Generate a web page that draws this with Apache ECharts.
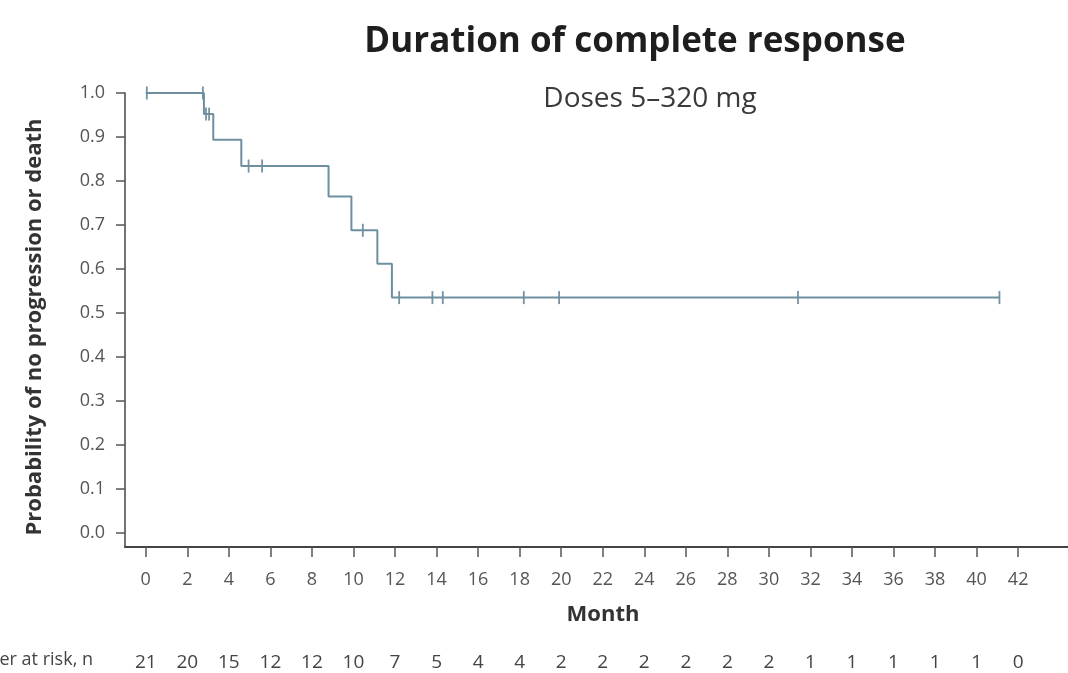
<!DOCTYPE html>
<html>
<head>
<meta charset="utf-8">
<script src="https://cdn.jsdelivr.net/npm/echarts@6/dist/echarts.min.js"></script>
<style>
html,body{margin:0;padding:0;background:#fff;}
#chart{width:1068px;height:673px;}
</style>
</head>
<body>
<div id="chart"></div>
<script>
// Kaplan-Meier step points: [month, probability]
const stepMonths = [0, 2.8, 3.25, 4.6, 8.8, 9.9, 11.15, 11.85, 41.1];
const stepProbs  = [1.0, 0.952, 0.894, 0.834, 0.765, 0.688, 0.612, 0.535, 0.535];
// Censored observations
const censorMonths = [0.05, 2.75, 2.9, 3.05, 4.95, 5.6, 10.45, 12.2, 13.8, 14.3, 18.2, 19.9, 31.4, 41.1];
const censorProbs  = [1.0, 1.0, 0.952, 0.952, 0.834, 0.834, 0.688, 0.535, 0.535, 0.535, 0.535, 0.535, 0.535, 0.535];
// Axis ticks
const monthTicks = [0,2,4,6,8,10,12,14,16,18,20,22,24,26,28,30,32,34,36,38,40,42];
const probTicks = [0,0.1,0.2,0.3,0.4,0.5,0.6,0.7,0.8,0.9,1.0];
// Number at risk at each month tick
const atRisk = [21,20,15,12,12,10,7,5,4,4,2,2,2,2,2,2,1,1,1,1,1,0];

const FONT = 'Open Sans';
const lineColor = '#6d8fa0';
const stepData = stepMonths.map((m, i) => [m, stepProbs[i]]);
const censorData = censorMonths.map((m, i) => [m, censorProbs[i]]);

const chart = echarts.init(document.getElementById('chart'), null, {renderer: 'canvas'});
chart.setOption({
  animation: false,
  backgroundColor: '#fff',
  textStyle: {fontFamily: FONT},
  title: [
    {text: 'Duration of complete response', left: 630, top: 20, textAlign: 'center',
     textStyle: {fontFamily: FONT, fontSize: 35, fontWeight: 'bold', color: '#1e1e1e'}},
    {text: 'Doses 5\u2013320 mg', left: 645, top: 80, textAlign: 'center',
     textStyle: {fontFamily: FONT, fontSize: 28, fontWeight: 'normal', color: '#3a3a3a'}}
  ],
  graphic: [
    {type: 'text', right: 1068 - 93, top: 651,
     style: {text: 'Number at risk, n', fontFamily: FONT, fontSize: 18, fill: '#444', textAlign: 'right'}}
  ],
  grid: {left: 125, right: 0, top: 93, bottom: 126, containLabel: false, outerBoundsMode: 'none'},
  xAxis: [
    {
      type: 'value', min: -1, max: 44.4, position: 'bottom',
      name: 'Month', nameLocation: 'middle', nameGap: 57,
      nameTextStyle: {fontFamily: FONT, fontSize: 22, fontWeight: 'bold', color: '#333', padding: [0, 0, 0, 13]},
      axisLine: {show: true, onZero: false, lineStyle: {color: '#444', width: 2}},
      axisTick: {show: true, length: 10, customValues: monthTicks, lineStyle: {color: '#555', width: 1.5}},
      axisLabel: {customValues: monthTicks, margin: 24, fontFamily: FONT, fontSize: 18, color: '#555'},
      splitLine: {show: false}
    },
    {
      type: 'value', min: -1, max: 44.4, position: 'bottom', offset: 106,
      axisLine: {show: false},
      axisTick: {show: false},
      axisLabel: {customValues: monthTicks, margin: 0, fontFamily: FONT, fontSize: 19, color: '#444',
        formatter: function (v) { const i = monthTicks.indexOf(Math.round(v)); return i >= 0 ? String(atRisk[i]) : ''; }},
      splitLine: {show: false}
    }
  ],
  yAxis: {
    type: 'value', min: -0.0318, max: 1.0,
    name: 'Probability of no progression or death', nameLocation: 'middle', nameGap: 79,
    nameTextStyle: {fontFamily: FONT, fontSize: 22, fontWeight: 'bold', color: '#333', padding: [0, 14, 0, 0]},
    axisLine: {show: true, onZero: false, lineStyle: {color: '#444', width: 1.5}},
    axisTick: {show: true, length: 9, customValues: probTicks, lineStyle: {color: '#555', width: 1.5}},
    axisLabel: {customValues: probTicks, margin: 20, fontFamily: FONT, fontSize: 18, color: '#555',
      formatter: function (v) { return v.toFixed(1); }},
    splitLine: {show: false}
  },
  series: [
    {
      type: 'line', step: 'end', data: stepData, xAxisIndex: 0,
      showSymbol: false, symbol: 'none',
      lineStyle: {color: lineColor, width: 2}
    },
    {
      type: 'scatter', data: censorData, xAxisIndex: 0,
      symbol: 'rect', symbolSize: [1.8, 13],
      itemStyle: {color: '#56768a'}
    }
  ]
});
</script>
</body>
</html>
